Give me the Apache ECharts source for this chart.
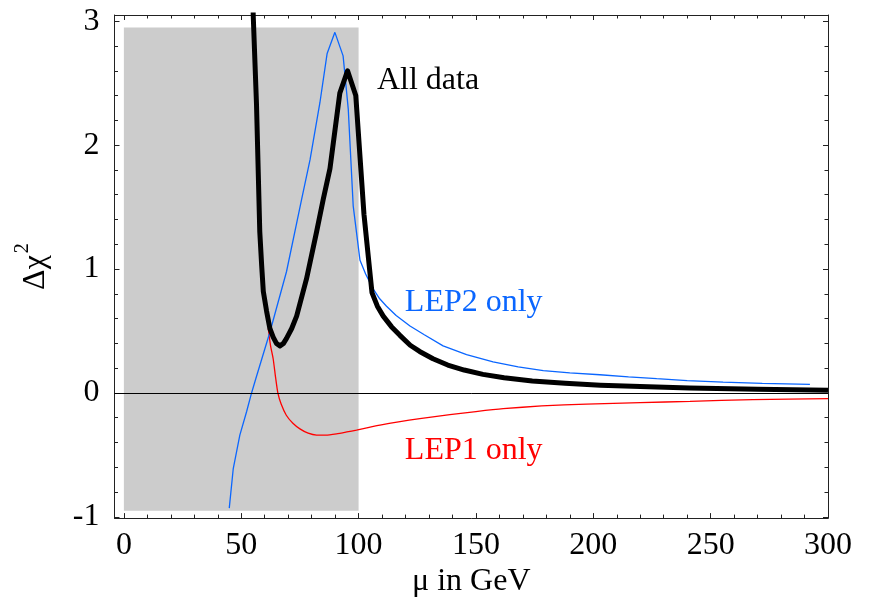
<!DOCTYPE html>
<html>
<head>
<meta charset="utf-8">
<script src="https://cdn.jsdelivr.net/npm/echarts@6/dist/echarts.min.js"></script>
<style>
html,body{margin:0;padding:0;background:#fff;}
#chart{width:871px;height:603px;}
</style>
</head>
<body>
<div id="chart"></div>
<script>
// ---- tick values ----
const xTickLabels = [0, 50, 100, 150, 200, 250, 300];
const xMinorTicks = [10, 20, 30, 40, 60, 70, 80, 90, 110, 120, 130, 140, 160, 170, 180, 190, 210, 220, 230, 240, 260, 270, 280, 290];
const yTickLabels = [-1, 0, 1, 2, 3];
const yMinorTicks = [-0.8, -0.6, -0.4, -0.2, 0.2, 0.4, 0.6, 0.8, 1.2, 1.4, 1.6, 1.8, 2.2, 2.4, 2.6, 2.8];

// ---- series: All data ----
const allMu  = [55.0, 55.1, 56.5, 57.9, 58.7, 59.4, 60.8, 62.2, 63.6, 65.0, 66.5, 68.0, 69.3, 71.5, 73.6, 77.8, 82.1, 84.9, 87.8, 92.0, 95.3, 98.8, 102.3, 105.7, 108.0, 110.5, 114.0, 117.6, 122.0, 126.0, 131.7, 138.0, 145.0, 153.0, 162.0, 174.0, 188.0, 203.0, 220.0, 241.0, 270.0, 300.0];
const allChi = [3.3, 3.05, 2.33, 1.30, 1.03, 0.82, 0.66, 0.52, 0.45, 0.40, 0.38, 0.40, 0.44, 0.52, 0.62, 0.92, 1.30, 1.56, 1.81, 2.42, 2.60, 2.40, 1.44, 0.81, 0.70, 0.62, 0.535, 0.465, 0.385, 0.335, 0.276, 0.225, 0.185, 0.150, 0.122, 0.097, 0.078, 0.063, 0.052, 0.040, 0.030, 0.021];

// ---- series: LEP2 only ----
const lep2Mu  = [44.9, 46.6, 49.4, 52.3, 54.4, 56.2, 62.2, 69.3, 75.7, 79.3, 83.5, 86.6, 89.9, 93.4, 95.6, 97.7, 100.6, 103.0, 106.2, 109.0, 111.9, 116.0, 121.9, 128.0, 136.0, 146.0, 157.3, 168.0, 178.7, 190.0, 202.8, 215.0, 227.0, 240.0, 255.3, 272.0, 292.3];
const lep2Chi = [-0.93, -0.61, -0.34, -0.15, 0, 0.115, 0.49, 0.98, 1.56, 1.88, 2.34, 2.74, 2.91, 2.72, 2.29, 1.51, 1.07, 0.96, 0.84, 0.76, 0.70, 0.625, 0.54, 0.47, 0.38, 0.31, 0.25, 0.21, 0.18, 0.162, 0.147, 0.13, 0.115, 0.10, 0.088, 0.078, 0.069];

// ---- series: LEP1 only ----
const lep1Mu  = [61.5, 62.5, 63.6, 64.6, 65.6, 67.0, 69.2, 72.0, 75.0, 78.5, 82.1, 86.0, 90.6, 95.0, 99.1, 104.0, 109.1, 117.0, 126.1, 138.9, 150.0, 161.6, 178.0, 197.1, 220.0, 241.2, 268.0, 300.0];
const lep1Chi = [0.52, 0.38, 0.276, 0.13, 0, -0.09, -0.18, -0.245, -0.29, -0.325, -0.34, -0.34, -0.33, -0.315, -0.30, -0.28, -0.26, -0.233, -0.207, -0.175, -0.15, -0.127, -0.105, -0.09, -0.078, -0.068, -0.054, -0.046];

// ---- shaded region (data units) ----
const bandMu  = [0, 100];
const bandChi = [-0.95, 2.95];

// ---- annotations (data units of left/middle anchor) ----
const annText = ['All data', 'LEP2 only', 'LEP1 only'];
const annMu   = [107.8, 119.7, 119.7];
const annChi  = [2.52, 0.726, -0.468];
const annColor = ['#000000', '#0a66ff', '#ff0000'];

const FONT = '"Liberation Serif", "DejaVu Serif", serif';
const BLUE = '#0a66ff', RED = '#ff0000';

const zip = (a, b) => a.map((v, i) => [v, b[i]]);

const chart = echarts.init(document.getElementById('chart'), null, {renderer: 'canvas'});

const X_MIN = -4, X_MAX = 300, Y_MIN = -1.01, Y_MAX = 3.05;
const lineCol = '#222';

function xAx(pos, ticks, len, labels, showLine, name) {
  return {
    type: 'value', position: pos, min: X_MIN, max: X_MAX,
    axisLine: {show: showLine, onZero: false, lineStyle: {color: lineCol, width: 1}},
    axisTick: {show: true, inside: true, length: len, customValues: ticks, lineStyle: {color: lineCol, width: 1}},
    axisLabel: labels ? {show: true, customValues: labels, fontFamily: FONT, fontSize: 32, color: '#000', margin: 11} : {show: false},
    splitLine: {show: false},
    name: name || '', nameLocation: 'middle', nameGap: 46,
    nameTextStyle: {fontFamily: FONT, fontSize: 32, color: '#000'}
  };
}
function yAx(pos, ticks, len, labels, showLine, name) {
  return {
    type: 'value', position: pos, min: Y_MIN, max: Y_MAX,
    axisLine: {show: showLine, onZero: false, lineStyle: {color: lineCol, width: 1}},
    axisTick: {show: true, inside: true, length: len, customValues: ticks, lineStyle: {color: lineCol, width: 1}},
    axisLabel: labels ? {show: true, customValues: labels, fontFamily: FONT, fontSize: 32, color: '#000', margin: 15} : {show: false},
    splitLine: {show: false},
    name: name || '', nameLocation: 'middle', nameGap: 56, nameRotate: 90,
    nameTextStyle: {
      fontFamily: FONT, fontSize: 32, color: '#000',
      rich: {
        a: {fontFamily: FONT, fontSize: 32, color: '#000'},
        s: {fontFamily: FONT, fontSize: 20, color: '#000', padding: [0, 0, 26, 2]}
      }
    }
  };
}

const option = {
  animation: false,
  backgroundColor: '#ffffff',
  grid: {left: 114.5, right: 43, top: 15, bottom: 83, containLabel: false},
  xAxis: [
    xAx('bottom', xTickLabels, 5, xTickLabels, true, 'μ in GeV'),
    xAx('bottom', xMinorTicks, 3.5, null, false),
    xAx('top', xTickLabels, 5, null, true),
    xAx('top', xMinorTicks, 3.5, null, false)
  ],
  yAxis: [
    yAx('left', yTickLabels, 5, yTickLabels, true, '{a|Δχ}{s|2}'),
    yAx('left', yMinorTicks, 3.5, null, false),
    yAx('right', yTickLabels, 5, null, true),
    yAx('right', yMinorTicks, 3.5, null, false)
  ],
  series: [
    {
      type: 'line', xAxisIndex: 0, yAxisIndex: 0, data: [], z: 1, silent: true,
      markArea: {
        silent: true,
        itemStyle: {color: '#cccccc', opacity: 1},
        data: [[{xAxis: bandMu[0], yAxis: bandChi[0]}, {xAxis: bandMu[1], yAxis: bandChi[1]}]]
      },
      markLine: {
        silent: true, symbol: 'none', label: {show: false},
        lineStyle: {color: '#000', width: 1, type: 'solid'},
        data: [{yAxis: 0}]
      }
    },
    {
      name: 'LEP1 only', type: 'line', xAxisIndex: 0, yAxisIndex: 0, z: 3,
      data: zip(lep1Mu, lep1Chi), showSymbol: false, smooth: 0.2, clip: true,
      lineStyle: {color: RED, width: 1.3}
    },
    {
      name: 'LEP2 only', type: 'line', xAxisIndex: 0, yAxisIndex: 0, z: 3,
      data: zip(lep2Mu, lep2Chi), showSymbol: false, smooth: false, clip: true,
      lineStyle: {color: BLUE, width: 1.3}
    },
    {
      name: 'All data', type: 'line', xAxisIndex: 0, yAxisIndex: 0, z: 4,
      data: zip(allMu, allChi), showSymbol: false, smooth: false, clip: true,
      lineStyle: {color: '#000', width: 5, join: 'round'}
    }
  ]
};
chart.setOption(option);

const graphics = annText.map((t, i) => {
  const p = chart.convertToPixel({xAxisIndex: 0, yAxisIndex: 0}, [annMu[i], annChi[i]]);
  return {
    type: 'text', x: p[0], y: p[1], z: 10,
    style: {text: t, fill: annColor[i], font: '32px ' + FONT, textAlign: 'left', textVerticalAlign: 'middle'}
  };
});
chart.setOption({graphic: graphics});
</script>
</body>
</html>
